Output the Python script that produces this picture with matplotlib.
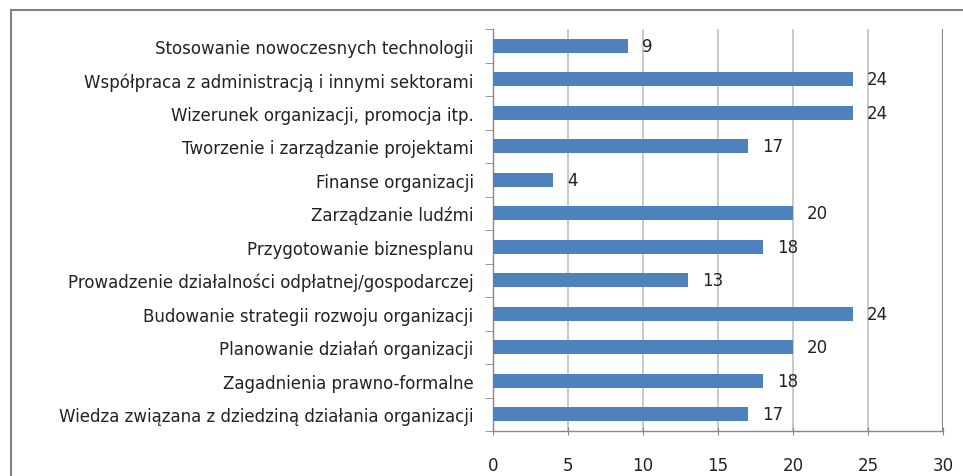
import matplotlib
matplotlib.use("Agg")
import matplotlib.pyplot as plt
from matplotlib.patches import Rectangle

categories = [
    "Stosowanie nowoczesnych technologii",
    "Współpraca z administracją i innymi sektorami",
    "Wizerunek organizacji, promocja itp.",
    "Tworzenie i zarządzanie projektami",
    "Finanse organizacji",
    "Zarządzanie ludźmi",
    "Przygotowanie biznesplanu",
    "Prowadzenie działalności odpłatnej/gospodarczej",
    "Budowanie strategii rozwoju organizacji",
    "Planowanie działań organizacji",
    "Zagadnienia prawno-formalne",
    "Wiedza związana z dziedziną działania organizacji",
]
values = [9, 24, 24, 17, 4, 20, 18, 13, 24, 20, 18, 17]
x_ticks = [0, 5, 10, 15, 20, 25, 30]

plt.rcParams['font.family'] = ['DejaVu Sans']
FS = 12

fig = plt.figure(figsize=(9.63, 4.77), dpi=100)
W, H = 963, 477
ax = fig.add_axes([493 / W, 1 - 432 / H, (943 - 493) / W, (432 - 30) / H])

n = len(categories)
ypos = list(range(n))
ax.barh(ypos, values, height=0.42, color="#4F81BD", zorder=3)
ax.set_ylim(n - 0.5, -0.5)
ax.set_xlim(0, 30)
ax.set_xticks(x_ticks)
ax.set_xticklabels([str(t) for t in x_ticks], fontsize=FS, color="#222222")
ax.set_yticks(ypos)
ax.set_yticklabels(categories, fontsize=FS, color="#222222")
ax.tick_params(axis='y', length=0, pad=14)
ax.set_yticks([i - 0.5 for i in range(n + 1)], minor=True)
ax.tick_params(axis='y', which='minor', length=6, color="#888888", direction='out')
ax.tick_params(axis='x', length=6, color="#888888", direction='inout', pad=15)
ax.grid(axis='x', color="#c0c0c0", linewidth=1.2, zorder=0)
for s in ['top', 'right']:
    ax.spines[s].set_visible(False)
for s in ['left', 'bottom']:
    ax.spines[s].set_color("#888888")
    ax.spines[s].set_linewidth(1.0)
ax.axvline(30, color="#888888", linewidth=1.5, zorder=2)

for y, v in zip(ypos, values):
    ax.annotate(str(v), (v, y), xytext=(10, 0), textcoords='offset points',
                va='center', ha='left', fontsize=FS, color="#222222")

fig.patches.append(Rectangle((11 / W, -0.1), 1.2, 1 - 11 / H + 0.1,
                             transform=fig.transFigure, fill=False,
                             edgecolor="#808080", linewidth=1.5))

fig.savefig("out.png", dpi=100)
